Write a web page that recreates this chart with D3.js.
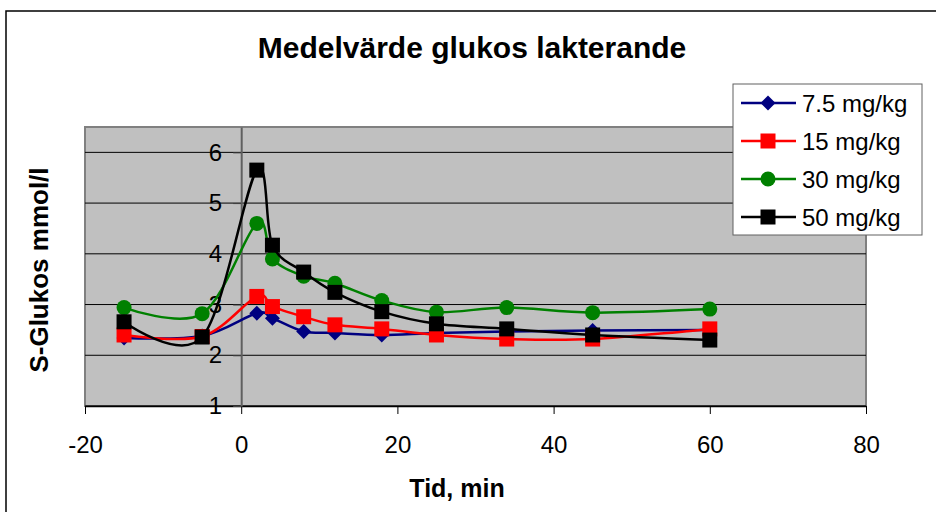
<!DOCTYPE html>
<html>
<head>
<meta charset="utf-8">
<script src="https://cdnjs.cloudflare.com/ajax/libs/d3/7.8.5/d3.min.js"></script>
<style>
  body { margin: 0; background: #fff; }
  text { font-family: "Liberation Sans", Arial, sans-serif; }
</style>
</head>
<body>
<div id="chart"></div>
<script>
// data
var times = [-15, -5, 2, 4, 8, 12, 18, 25, 34, 45, 60];
var dose75 = [2.34, 2.38, 2.83, 2.73, 2.47, 2.44, 2.40, 2.44, 2.47, 2.49, 2.50];
var dose15 = [2.40, 2.37, 3.16, 2.96, 2.76, 2.60, 2.52, 2.40, 2.32, 2.32, 2.52];
var dose30 = [2.94, 2.82, 4.60, 3.90, 3.56, 3.42, 3.08, 2.85, 2.94, 2.84, 2.91];
var dose50 = [2.66, 2.36, 5.65, 4.17, 3.64, 3.24, 2.86, 2.62, 2.52, 2.40, 2.30];
var seriesNames = ["7.5 mg/kg", "15 mg/kg", "30 mg/kg", "50 mg/kg"];
var xTicks = [-20, 0, 20, 40, 60, 80];
var yTicks = [1, 2, 3, 4, 5, 6];

var width = 936;
var height = 512;

var plotLeft = 85, plotRight = 866, plotTop = 127, plotBottom = 406;

var x = d3.scaleLinear().domain([-20, 80]).range([plotLeft, plotRight]);
var y = d3.scaleLinear().domain([1, 6.5]).range([plotBottom, plotTop]);

var svg = d3.select("#chart").append("svg")
  .attr("width", width)
  .attr("height", height);

// outer chart frame
svg.append("rect")
  .attr("x", 6).attr("y", 11)
  .attr("width", width + 10).attr("height", height + 10)
  .attr("fill", "#fff")
  .attr("stroke", "#000")
  .attr("stroke-width", 1.5);

// plot area
svg.append("rect")
  .attr("x", plotLeft).attr("y", plotTop)
  .attr("width", plotRight - plotLeft).attr("height", plotBottom - plotTop)
  .attr("fill", "#c0c0c0")
  .attr("stroke", "#808080")
  .attr("stroke-width", 2);

// gridlines
svg.append("g").selectAll("line")
  .data(yTicks)
  .enter().append("line")
  .attr("x1", plotLeft).attr("x2", plotRight)
  .attr("y1", function(d) { return y(d); })
  .attr("y2", function(d) { return y(d); })
  .attr("stroke", "#000")
  .attr("stroke-width", 1);

// x axis
var xAxis = svg.append("g")
  .attr("transform", "translate(0," + plotBottom + ")")
  .call(d3.axisBottom(x).tickValues(xTicks).tickSize(8).tickPadding(22).tickSizeOuter(0)
    .tickFormat(function(d) { return String(d); }));
xAxis.select(".domain").attr("stroke", "#000").attr("stroke-width", 1.5);
xAxis.selectAll(".tick line").attr("stroke", "#000");
xAxis.selectAll("text").attr("font-size", 24).attr("fill", "#000")
  .attr("font-family", "Liberation Sans, Arial, sans-serif");

// y axis sits at x = 0
var yAxis = svg.append("g")
  .attr("transform", "translate(" + x(0) + ",0)")
  .call(d3.axisLeft(y).tickValues(yTicks).tickSize(8).tickPadding(11).tickSizeOuter(0)
    .tickFormat(function(d) { return String(d); }));
yAxis.select(".domain").attr("stroke", "#606060").attr("stroke-width", 2);
yAxis.selectAll(".tick line").attr("stroke", "#404040");
yAxis.selectAll("text").attr("font-size", 24).attr("fill", "#000")
  .attr("font-family", "Liberation Sans, Arial, sans-serif");

// series
var series = [
  { name: seriesNames[0], values: dose75, color: "#000080", shape: "diamond" },
  { name: seriesNames[1], values: dose15, color: "#ff0000", shape: "square" },
  { name: seriesNames[2], values: dose30, color: "#008000", shape: "circle" },
  { name: seriesNames[3], values: dose50, color: "#000000", shape: "square" }
];

var line = d3.line()
  .x(function(d) { return x(d[0]); })
  .y(function(d) { return y(d[1]); })
  .curve(d3.curveCardinal.tension(0));

function marker(sel, shape, color) {
  if (shape == "diamond") {
    sel.append("path").attr("d", "M0,-7.5L7.5,0L0,7.5L-7.5,0Z").attr("fill", color);
  } else if (shape == "square") {
    sel.append("rect").attr("x", -7.5).attr("y", -7.5)
      .attr("width", 15).attr("height", 15).attr("fill", color);
  } else {
    sel.append("circle").attr("r", 7.5).attr("fill", color);
  }
}

series.forEach(function(s) {
  var pts = times.map(function(t, i) { return [t, s.values[i]]; });
  var g = svg.append("g");
  g.append("path")
    .datum(pts)
    .attr("d", line)
    .attr("fill", "none")
    .attr("stroke", s.color)
    .attr("stroke-width", 2.5);
  g.selectAll(".m")
    .data(pts)
    .enter().append("g")
    .attr("transform", function(d) { return "translate(" + x(d[0]) + "," + y(d[1]) + ")"; })
    .each(function() { marker(d3.select(this), s.shape, s.color); });
});

// title
svg.append("text")
  .attr("x", 472).attr("y", 58)
  .attr("text-anchor", "middle")
  .attr("font-size", 30).attr("font-weight", "bold")
  .text("Medelvärde glukos lakterande");

// axis titles
svg.append("text")
  .attr("x", 457).attr("y", 497)
  .attr("text-anchor", "middle")
  .attr("font-size", 25).attr("font-weight", "bold")
  .text("Tid, min");

svg.append("text")
  .attr("transform", "translate(48,270) rotate(-90)")
  .attr("text-anchor", "middle")
  .attr("font-size", 26).attr("font-weight", "bold")
  .text("S-Glukos mmol/l");

// legend
var legend = svg.append("g").attr("transform", "translate(733,84)");
legend.append("rect")
  .attr("width", 189).attr("height", 151)
  .attr("fill", "#fff")
  .attr("stroke", "#606060")
  .attr("stroke-width", 1);

series.forEach(function(s, i) {
  var row = legend.append("g").attr("transform", "translate(0," + (19 + i * 38) + ")");
  row.append("line")
    .attr("x1", 8).attr("x2", 63)
    .attr("stroke", s.color).attr("stroke-width", 2.5);
  var m = row.append("g").attr("transform", "translate(35,0)");
  marker(m, s.shape, s.color);
  row.append("text")
    .attr("x", 69).attr("y", 8.5)
    .attr("font-size", 24)
    .text(s.name);
});
</script>
</body>
</html>
